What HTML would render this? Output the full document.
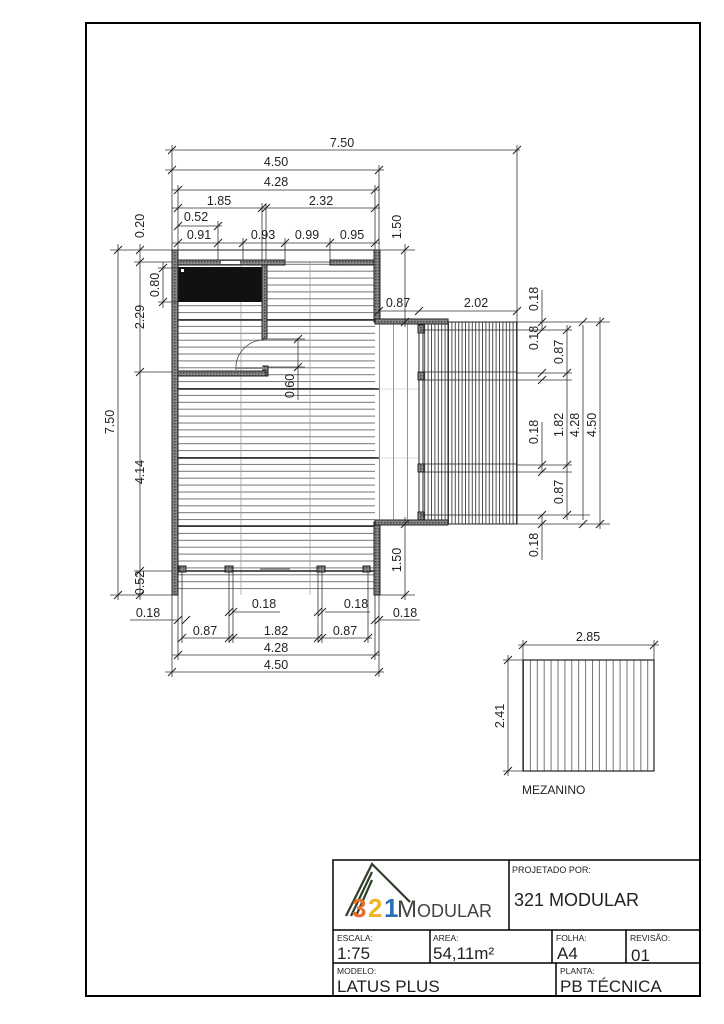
<!DOCTYPE html>
<html><head><meta charset="utf-8"><style>
html,body{margin:0;padding:0;background:#fff}
svg{display:block}
text{font-family:"Liberation Sans",sans-serif;fill:#222}
</style></head><body>
<svg width="724" height="1024" viewBox="0 0 724 1024" xmlns="http://www.w3.org/2000/svg">
<defs>
<pattern id="hl" x="0" y="250" width="10" height="6.9" patternUnits="userSpaceOnUse"><line x1="0" y1="0.5" x2="10" y2="0.5" stroke="#555" stroke-width="0.8"/></pattern>
<pattern id="vd" x="448" y="0" width="3.4" height="10" patternUnits="userSpaceOnUse"><line x1="0.5" y1="0" x2="0.5" y2="10" stroke="#222" stroke-width="0.8"/></pattern>
<pattern id="vs" x="379" y="0" width="14" height="10" patternUnits="userSpaceOnUse"><line x1="0.5" y1="0" x2="0.5" y2="10" stroke="#666" stroke-width="0.7"/></pattern>
<pattern id="vm" x="523" y="0" width="6.9" height="10" patternUnits="userSpaceOnUse"><line x1="0.5" y1="0" x2="0.5" y2="10" stroke="#555" stroke-width="0.8"/></pattern>
<pattern id="hatch" width="3" height="3" patternUnits="userSpaceOnUse"><rect width="3" height="3" fill="#888"/><rect width="1.5" height="1.5" fill="#444"/></pattern>
</defs>
<rect x="86" y="23" width="614" height="973" fill="none" stroke="#000" stroke-width="2"/>

<rect x="178" y="262" width="197" height="333" fill="url(#hl)"/>
<line x1="241" y1="262" x2="241" y2="595" stroke="#999" stroke-width="0.7"/>
<line x1="310" y1="262" x2="310" y2="595" stroke="#999" stroke-width="0.7"/>
<g stroke="#222" stroke-width="1.4">
<line x1="178" y1="320" x2="375" y2="320"/><line x1="178" y1="389" x2="379" y2="389"/>
<line x1="178" y1="458" x2="379" y2="458"/><line x1="178" y1="526" x2="379" y2="526"/>
<line x1="172" y1="250" x2="379" y2="250" stroke-width="1"/>
<line x1="178" y1="571" x2="375" y2="571"/>
</g>
<rect x="178" y="267" width="84" height="35" fill="#111"/>
<rect x="181" y="269" width="3" height="3" fill="#fff"/>
<g fill="url(#hatch)" stroke="#222" stroke-width="1">
<rect x="172" y="250" width="6" height="345"/>
<rect x="374" y="250" width="6" height="72"/>
<rect x="374" y="522" width="6" height="73"/>
<rect x="178" y="260" width="107" height="5"/>
<rect x="330" y="260" width="44" height="5"/>
<rect x="262" y="265" width="5" height="74"/>
<rect x="263" y="366" width="5" height="10"/>
<rect x="178" y="371" width="88" height="5"/>
<rect x="375" y="319" width="73" height="5"/>
<rect x="375" y="520" width="73" height="5"/>
</g>
<rect x="221" y="261" width="19" height="3" fill="#fff"/>
<line x1="285" y1="262" x2="330" y2="262" stroke="#333" stroke-width="0.8"/>
<path d="M236 370 A28 28 0 0 1 264 340" fill="none" stroke="#444" stroke-width="0.8"/>
<line x1="236" y1="368" x2="264" y2="368" stroke="#888" stroke-width="2"/>
<g fill="url(#hatch)" stroke="#222"><rect x="179" y="566" width="7" height="6"/><rect x="225" y="566" width="8" height="6"/><rect x="317" y="566" width="8" height="6"/><rect x="363" y="566" width="7" height="6"/></g>
<line x1="260" y1="569" x2="290" y2="569" stroke="#777" stroke-width="1.5"/>

<rect x="379" y="324" width="42" height="196" fill="url(#vs)"/>
<rect x="448" y="322" width="69" height="202" fill="url(#vd)" stroke="#222"/>
<rect x="421" y="324" width="27" height="196" fill="url(#vd)"/>
<line x1="379" y1="389" x2="421" y2="389" stroke="#bbb" stroke-width="0.6"/>
<line x1="379" y1="458" x2="421" y2="458" stroke="#bbb" stroke-width="0.6"/>
<rect x="419" y="325" width="4" height="195" fill="#fff" stroke="#222"/>
<g fill="url(#hatch)" stroke="#222"><rect x="418" y="325" width="6" height="8"/><rect x="418" y="372" width="6" height="8"/><rect x="418" y="464" width="6" height="8"/><rect x="418" y="512" width="6" height="8"/></g>
<g stroke="#222" stroke-width="0.8"><line x1="421" y1="372" x2="517" y2="372"/><line x1="421" y1="380" x2="517" y2="380"/><line x1="421" y1="464" x2="517" y2="464"/><line x1="421" y1="472" x2="517" y2="472"/><line x1="421" y1="330" x2="517" y2="330"/><line x1="421" y1="515" x2="517" y2="515"/></g>

<g stroke="#333" stroke-width="0.8" fill="none">
<line x1="165" y1="150" x2="520" y2="150"/><line x1="165" y1="170" x2="384" y2="170"/>
<line x1="172" y1="190" x2="380" y2="190"/><line x1="172" y1="208" x2="380" y2="208"/>
<line x1="178" y1="226" x2="222" y2="226"/><line x1="172" y1="243" x2="380" y2="243"/>
<line x1="172" y1="145" x2="172" y2="250"/><line x1="517" y1="145" x2="517" y2="322"/>
<line x1="379" y1="165" x2="379" y2="250"/><line x1="178" y1="185" x2="178" y2="260"/><line x1="375" y1="185" x2="375" y2="250"/>
<line x1="262" y1="203" x2="262" y2="260"/><line x1="266" y1="203" x2="266" y2="260"/>
<line x1="218" y1="221" x2="218" y2="260"/><line x1="243" y1="238" x2="243" y2="260"/><line x1="285" y1="238" x2="285" y2="260"/><line x1="330" y1="238" x2="330" y2="260"/>
<line x1="110" y1="250" x2="172" y2="250"/><line x1="110" y1="595" x2="172" y2="595"/>
<line x1="118" y1="244" x2="118" y2="600"/><line x1="140" y1="244" x2="140" y2="600"/>
<line x1="134" y1="262" x2="172" y2="262"/><line x1="134" y1="372" x2="172" y2="372"/><line x1="134" y1="571" x2="172" y2="571"/>
<line x1="163" y1="262" x2="163" y2="308"/><line x1="158" y1="268" x2="178" y2="268"/><line x1="158" y1="302" x2="178" y2="302"/>
<line x1="405" y1="244" x2="405" y2="327"/><line x1="405" y1="517" x2="405" y2="600"/>
<line x1="379" y1="250" x2="415" y2="250"/><line x1="379" y1="595" x2="415" y2="595"/>
<line x1="379" y1="311" x2="517" y2="311"/>
<line x1="298" y1="338" x2="298" y2="400"/><line x1="268" y1="339" x2="305" y2="339"/><line x1="268" y1="367" x2="305" y2="367"/>
<line x1="542" y1="290" x2="542" y2="330"/><line x1="542" y1="422" x2="542" y2="472"/><line x1="542" y1="515" x2="542" y2="560"/>
<line x1="517" y1="322" x2="610" y2="322"/><line x1="517" y1="524" x2="610" y2="524"/>
<line x1="567" y1="325" x2="567" y2="520"/><line x1="583" y1="325" x2="583" y2="520"/><line x1="600" y1="317" x2="600" y2="529"/>
<line x1="517" y1="330" x2="572" y2="330"/><line x1="517" y1="515" x2="590" y2="515"/>
<line x1="517" y1="373" x2="572" y2="373"/><line x1="517" y1="380" x2="572" y2="380"/><line x1="517" y1="465" x2="572" y2="465"/><line x1="517" y1="472" x2="572" y2="472"/>
<line x1="130" y1="620" x2="178" y2="620"/><line x1="379" y1="620" x2="420" y2="620"/>
<line x1="232" y1="612" x2="280" y2="612"/><line x1="325" y1="612" x2="370" y2="612"/>
<line x1="182" y1="638" x2="372" y2="638"/><line x1="172" y1="655" x2="380" y2="655"/><line x1="165" y1="672" x2="384" y2="672"/>
<line x1="172" y1="595" x2="172" y2="677"/><line x1="379" y1="595" x2="379" y2="677"/><line x1="178" y1="595" x2="178" y2="660"/><line x1="375" y1="595" x2="375" y2="660"/>
<line x1="182" y1="572" x2="182" y2="643"/><line x1="229" y1="572" x2="229" y2="643"/><line x1="233" y1="572" x2="233" y2="643"/><line x1="318" y1="572" x2="318" y2="643"/><line x1="322" y1="572" x2="322" y2="643"/><line x1="368" y1="572" x2="368" y2="643"/>
<line x1="518" y1="645" x2="659" y2="645"/><line x1="523" y1="640" x2="523" y2="660"/><line x1="654" y1="640" x2="654" y2="660"/>
<line x1="508" y1="655" x2="508" y2="776"/><line x1="503" y1="660" x2="523" y2="660"/><line x1="503" y1="771" x2="523" y2="771"/>
</g>
<g stroke="#222" stroke-width="1">
<path d="M168 154l8-8M168 174l8-8M174 194l8-8M174 212l8-8M174 230l8-8M174 247l8-8M375 174l8-8M371 194l8-8M371 212l8-8M513 154l8-8M258 212l8-8M262 212l8-8M214 230l8-8M214 247l8-8M239 247l8-8M281 247l8-8M326 247l8-8M371 247l8-8"/>
<path d="M114 254l8-8M114 599l8-8M136 254l8-8M136 266l8-8M136 376l8-8M136 575l8-8M136 599l8-8M159 272l8-8M159 306l8-8M401 254l8-8M401 326l8-8M401 528l8-8M401 599l8-8M375 315l8-8M415 315l8-8M513 315l8-8M294 343l8-8M294 371l8-8"/>
<path d="M538 326l8-8M538 334l8-8M538 377l8-8M538 384l8-8M538 469l8-8M538 476l8-8M538 519l8-8M538 528l8-8M563 334l8-8M563 377l8-8M563 469l8-8M563 519l8-8M579 326l8-8M579 528l8-8M596 326l8-8M596 528l8-8"/>
<path d="M174 624l8-8M182 624l8-8M371 624l8-8M375 624l8-8M225 616l8-8M229 616l8-8M314 616l8-8M318 616l8-8M178 642l8-8M225 642l8-8M229 642l8-8M314 642l8-8M318 642l8-8M364 642l8-8M174 659l8-8M371 659l8-8M168 676l8-8M375 676l8-8M519 649l8-8M650 649l8-8M504 664l8-8M504 775l8-8"/>
</g>

<g font-size="12.5" text-anchor="middle">
<text x="342" y="147">7.50</text><text x="276" y="166">4.50</text><text x="276" y="186">4.28</text>
<text x="219" y="205">1.85</text><text x="321" y="205">2.32</text><text x="196" y="221">0.52</text>
<text x="199" y="239">0.91</text><text x="263" y="239">0.93</text><text x="307" y="239">0.99</text><text x="352" y="239">0.95</text>
<text x="398" y="307">0.87</text><text x="476" y="307">2.02</text>
<text x="148" y="617">0.18</text><text x="264" y="608">0.18</text><text x="356" y="608">0.18</text><text x="405" y="617">0.18</text>
<text x="205" y="635">0.87</text><text x="276" y="635">1.82</text><text x="345" y="635">0.87</text>
<text x="276" y="652">4.28</text><text x="276" y="669">4.50</text>
<text x="588" y="641">2.85</text>
<g transform="rotate(-90)">
<text x="-422" y="114">7.50</text><text x="-226" y="144">0.20</text><text x="-317" y="144">2.29</text><text x="-472" y="144">4.14</text><text x="-583" y="144">0.52</text>
<text x="-285" y="159">0.80</text><text x="-227" y="401">1.50</text><text x="-560" y="401">1.50</text><text x="-386" y="294">0.60</text>
<text x="-299" y="538">0.18</text><text x="-338" y="538">0.18</text><text x="-432" y="538">0.18</text><text x="-545" y="538">0.18</text>
<text x="-352" y="563">0.87</text><text x="-425" y="563">1.82</text><text x="-492" y="563">0.87</text>
<text x="-425" y="579">4.28</text><text x="-425" y="596">4.50</text><text x="-716" y="504">2.41</text>
</g>
</g>
<rect x="523" y="660" width="131" height="111" fill="url(#vm)" stroke="#222" stroke-width="1.2"/>
<text x="522" y="794" font-size="12">MEZANINO</text>

<g stroke="#000" stroke-width="1.5" fill="none">
<rect x="333" y="860" width="367" height="136"/>
<line x1="333" y1="930" x2="700" y2="930"/><line x1="333" y1="963" x2="700" y2="963"/>
<line x1="509" y1="860" x2="509" y2="930"/><line x1="430" y1="930" x2="430" y2="963"/>
<line x1="552" y1="930" x2="552" y2="963"/><line x1="626" y1="930" x2="626" y2="963"/><line x1="556" y1="963" x2="556" y2="996"/>
</g>
<g stroke="#2f3f2a" stroke-width="2.2" fill="none"><path d="M346 916 L372 864 L410 902"/><path d="M351 916 L372 872"/><path d="M356 916 L372 880"/></g>
<text x="352" y="917" font-size="26" font-weight="bold" style="fill:#e8702a">3</text>
<text x="368" y="917" font-size="26" font-weight="bold" style="fill:#f0b323">2</text>
<text x="384" y="917" font-size="26" font-weight="bold" style="fill:#2a6fb7">1</text>
<text x="397" y="917" font-size="24" style="fill:#444">M<tspan font-size="18">ODULAR</tspan></text>
<text x="512" y="873" font-size="9">PROJETADO POR:</text>
<text x="514" y="906" font-size="18">321 MODULAR</text>
<text x="337" y="941" font-size="8.5">ESCALA:</text><text x="337" y="959" font-size="17">1:75</text>
<text x="433" y="941" font-size="8.5">AREA:</text><text x="433" y="959" font-size="17">54,11m²</text>
<text x="556" y="941" font-size="8.5">FOLHA:</text><text x="557" y="959" font-size="17">A4</text>
<text x="630" y="941" font-size="8.5">REVISÃO:</text><text x="631" y="961" font-size="17">01</text>
<text x="337" y="974" font-size="8.5">MODELO:</text><text x="337" y="992" font-size="17">LATUS PLUS</text>
<text x="560" y="974" font-size="8.5">PLANTA:</text><text x="560" y="992" font-size="17">PB TÉCNICA</text>
</svg>
</body></html>
